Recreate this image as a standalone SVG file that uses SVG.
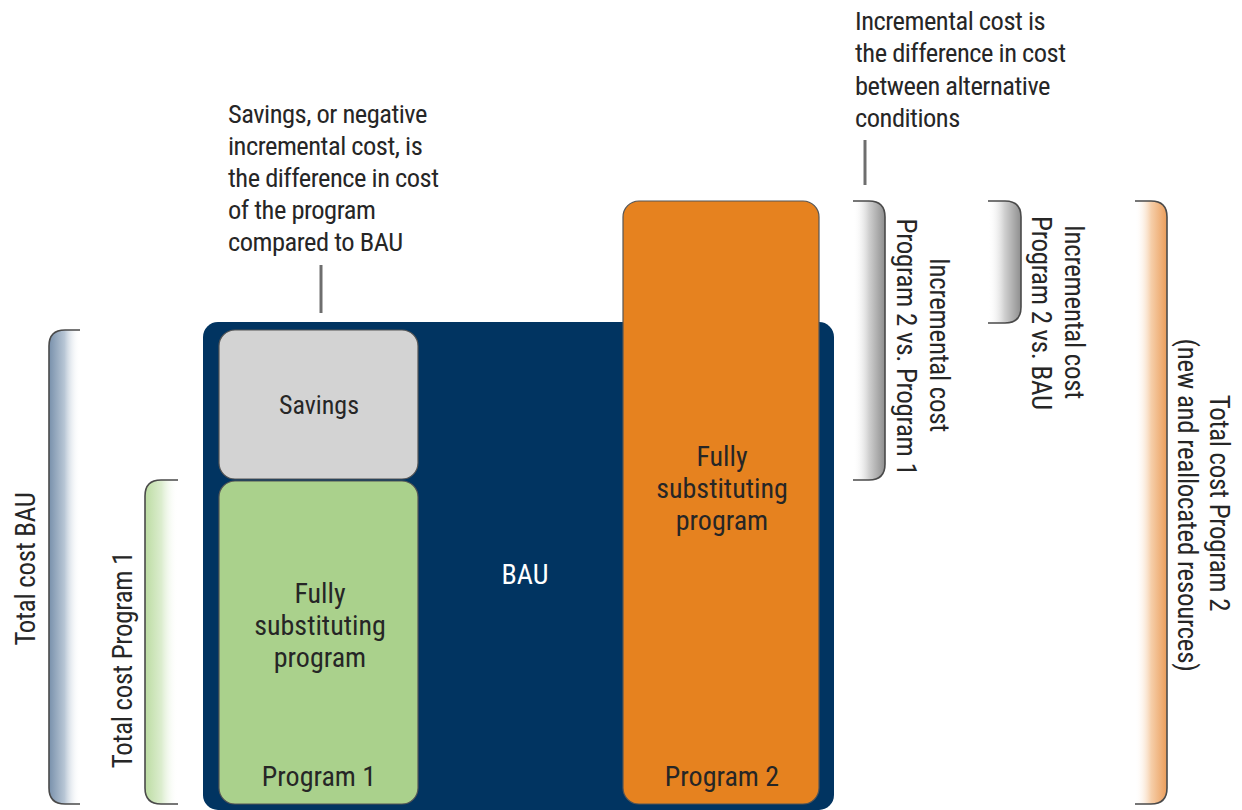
<svg xmlns="http://www.w3.org/2000/svg" width="1242" height="810" viewBox="0 0 1242 810">
<style>
  .t { font-family: "Liberation Sans Narrow", "Roboto Condensed", "DejaVu Sans Condensed", "Liberation Sans", sans-serif; font-stretch: condensed; fill: #262626; }
  .ann { font-size: 26.5px; letter-spacing: -0.5px; }
  .lbl { font-size: 28px; text-anchor: middle; }
  .brk { font-size: 27px; text-anchor: middle; letter-spacing: -0.3px; }
  .white { fill: #ffffff; }
  .bracket { stroke: #4a4a4a; stroke-width: 1.6; }
  .lead { stroke: #6e6e6e; stroke-width: 3; fill: none; }
  .box { stroke: #555555; stroke-width: 1.2; }
</style>
<defs>
  <linearGradient id="gBau" x1="0" y1="0" x2="1" y2="0">
    <stop offset="0" stop-color="#7890ab"/>
    <stop offset="0.5" stop-color="#b8c6d5"/>
    <stop offset="1" stop-color="#ffffff" stop-opacity="0"/>
  </linearGradient>
  <linearGradient id="gP1" x1="0" y1="0" x2="1" y2="0">
    <stop offset="0" stop-color="#bcdca2"/>
    <stop offset="0.5" stop-color="#dcedcf"/>
    <stop offset="1" stop-color="#ffffff" stop-opacity="0"/>
  </linearGradient>
  <linearGradient id="gGrey" x1="0" y1="0" x2="1" y2="0">
    <stop offset="0" stop-color="#ffffff" stop-opacity="0"/>
    <stop offset="0.5" stop-color="#d0d0d0"/>
    <stop offset="1" stop-color="#8e8e8e"/>
  </linearGradient>
  <linearGradient id="gOr" x1="0" y1="0" x2="1" y2="0">
    <stop offset="0" stop-color="#ffffff" stop-opacity="0"/>
    <stop offset="0.5" stop-color="#f6cfaa"/>
    <stop offset="1" stop-color="#eb9d5a"/>
  </linearGradient>
</defs>

<g id="bau">
  <rect x="203" y="322" width="631" height="488" rx="15" fill="#013461"/>
  <text class="t lbl white" x="525" y="584">BAU</text>
</g>

<g id="savings">
  <rect class="box" x="219" y="330" width="199" height="149" rx="16" fill="#d3d3d3"/>
  <text class="t lbl" x="319" y="414" style="font-size:26px">Savings</text>
</g>

<g id="program1">
  <rect class="box" x="219" y="481" width="199" height="323" rx="16" fill="#aad18c"/>
  <text class="t lbl" x="320" y="603">Fully</text>
  <text class="t lbl" x="320" y="635">substituting</text>
  <text class="t lbl" x="320" y="667">program</text>
  <text class="t lbl" x="319" y="786">Program 1</text>
</g>

<g id="program2">
  <rect class="box" x="623" y="201" width="196" height="603" rx="16" fill="#e6821f"/>
  <text class="t lbl" x="722" y="466">Fully</text>
  <text class="t lbl" x="722" y="498">substituting</text>
  <text class="t lbl" x="722" y="530">program</text>
  <text class="t lbl" x="722" y="786">Program 2</text>
</g>

<g id="note-savings">
  <text class="t ann" x="228" y="123">Savings, or negative</text>
  <text class="t ann" x="228" y="155">incremental cost, is</text>
  <text class="t ann" x="228" y="187">the difference in cost</text>
  <text class="t ann" x="228" y="219">of the program</text>
  <text class="t ann" x="228" y="251">compared to BAU</text>
</g>

<g id="note-incremental">
  <text class="t ann" x="855" y="30">Incremental cost is</text>
  <text class="t ann" x="855" y="62">the difference in cost</text>
  <text class="t ann" x="855" y="95">between alternative</text>
  <text class="t ann" x="855" y="127">conditions</text>
</g>

<g id="bracket-total-bau">
  <path class="bracket" fill="url(#gBau)" d="M80 330 H65 Q49 330 49 346 V788 Q49 804 65 804 H80"/>
  <text class="t brk" transform="translate(35,569) rotate(-90)" x="0" y="0">Total cost BAU</text>
</g>

<g id="bracket-total-p1">
  <path class="bracket" fill="url(#gP1)" d="M178 480 H161 Q145 480 145 496 V788 Q145 804 161 804 H178"/>
  <text class="t brk" transform="translate(132,660) rotate(-90)" x="0" y="0">Total cost Program 1</text>
</g>

<g id="bracket-inc-p2-p1">
  <path class="bracket" fill="url(#gGrey)" d="M853 201 H869 Q885 201 885 217 V464 Q885 480 869 480 H853"/>
  <text class="t brk" transform="translate(930,345) rotate(90)" x="0" y="0">Incremental cost</text>
  <text class="t brk" transform="translate(897,347) rotate(90)" x="0" y="0">Program 2 vs. Program 1</text>
</g>

<g id="bracket-inc-p2-bau">
  <path class="bracket" fill="url(#gGrey)" d="M988 201 H1005 Q1021 201 1021 217 V307 Q1021 323 1005 323 H988"/>
  <text class="t brk" transform="translate(1065,312) rotate(90)" x="0" y="0">Incremental cost</text>
  <text class="t brk" transform="translate(1032,313) rotate(90)" x="0" y="0">Program 2 vs. BAU</text>
</g>

<g id="bracket-total-p2">
  <path class="bracket" fill="url(#gOr)" d="M1135 201 H1151 Q1167 201 1167 217 V788 Q1167 804 1151 804 H1135"/>
  <text class="t brk" transform="translate(1210,503) rotate(90)" x="0" y="0">Total cost Program 2</text>
  <text class="t brk" transform="translate(1178,505) rotate(90)" x="0" y="0">(new and reallocated resources)</text>
</g>

<g id="connectors">
  <line class="lead" x1="321" y1="265" x2="321" y2="313"/>
  <line class="lead" x1="865" y1="140" x2="865" y2="185"/>
</g>
</svg>
